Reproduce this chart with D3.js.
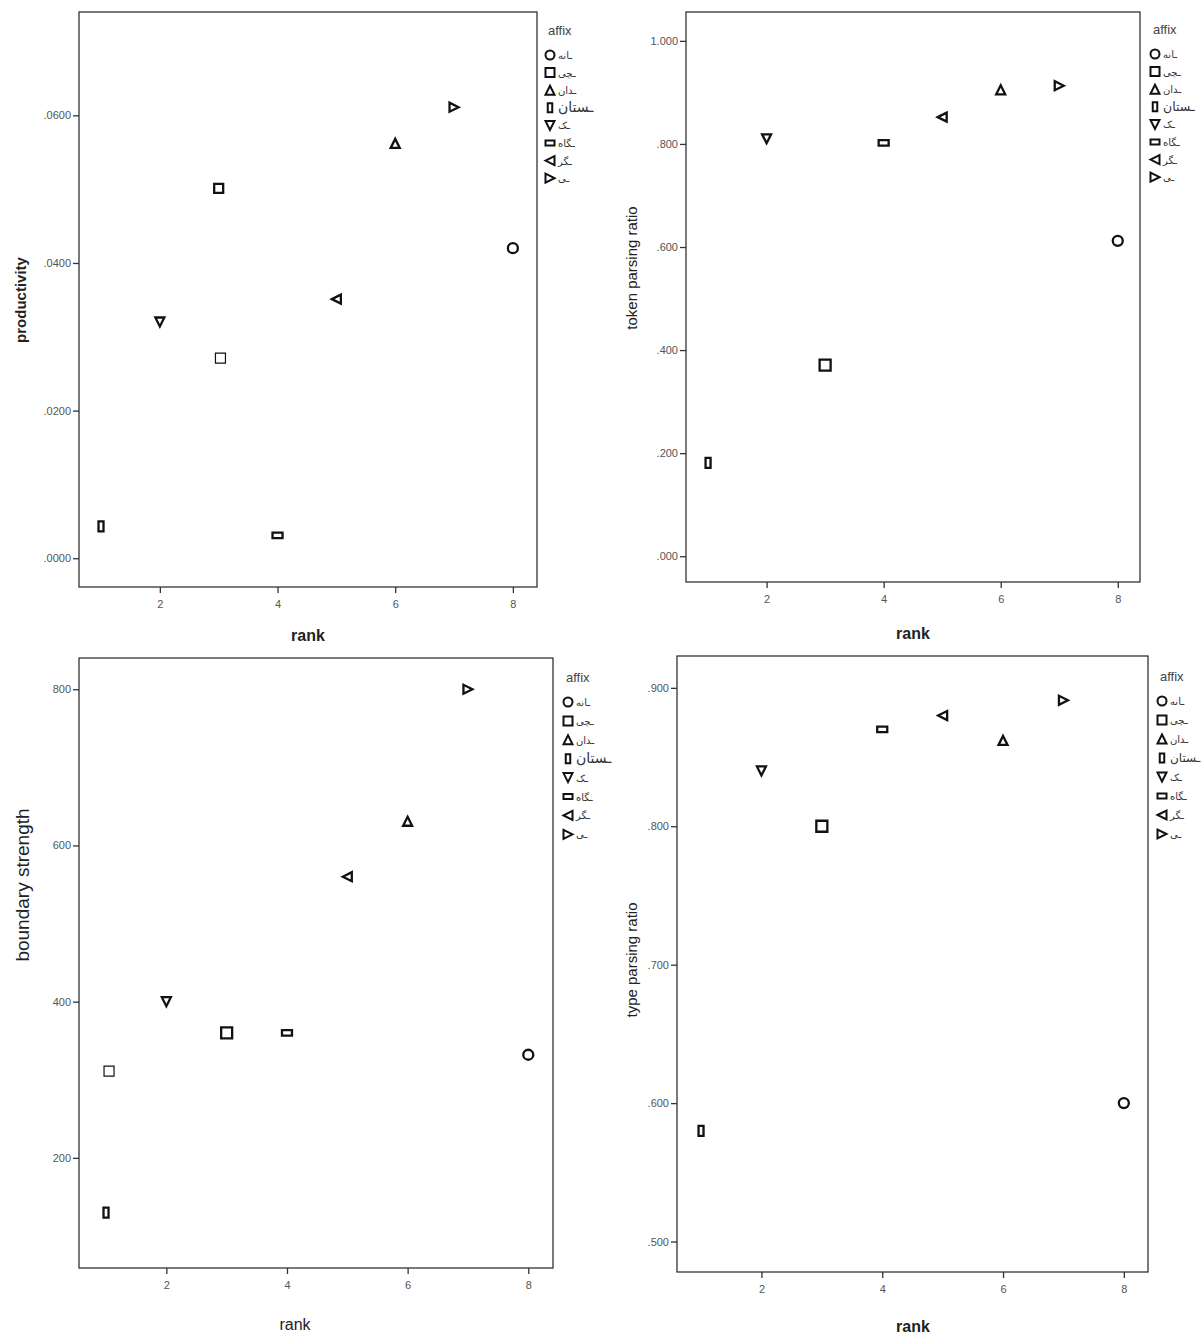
<!DOCTYPE html>
<html>
<head>
<meta charset="utf-8">
<script src="https://cdn.jsdelivr.net/npm/d3@7"></script>
<style>
body { margin: 0; background: #fff; }
svg text { font-family: "Liberation Sans", Arial, sans-serif; }
</style>
</head>
<body>
<div id="chart"></div>
<script>
// data
var affixes = ["ـانه", "ـچی", "ـدان", "ـستان", "ـک", "ـگاه", "ـگر", "ـی"];
var shapes = ["circle", "square", "up", "tall", "down", "wide", "left", "right"];
var ranks = [8, 3, 6, 1, 2, 4, 5, 7];

var productivity = [0.0420, 0.0501, 0.0562, 0.0043, 0.0320, 0.0031, 0.0351, 0.0611];
var tokenParsing = [0.612, 0.371, 0.905, 0.181, 0.810, 0.802, 0.852, 0.913];
var boundaryStrength = [332, 360, 631, 130, 400, 360, 560, 800];
var typeParsing = [0.600, 0.800, 0.862, 0.580, 0.840, 0.870, 0.880, 0.891];

// stray thin squares without legend entry
var productivityExtra = [{rank: 3.03, value: 0.0271}];
var boundaryExtra = [{rank: 1.05, value: 311}];

var xTicks = [2, 4, 6, 8];
var prodTicks = [0, 0.02, 0.04, 0.06];
var tokenTicks = [0, 0.2, 0.4, 0.6, 0.8, 1.0];
var boundaryTicks = [200, 400, 600, 800];
var typeTicks = [0.5, 0.6, 0.7, 0.8, 0.9];

var stripZero = function(f){ return function(d){ return f(d).replace(/^0\./, "."); }; };

var panels = [
	{values: productivity, extra: productivityExtra, ticks: prodTicks, fmt: stripZero(d3.format(".4f")),
	 left: 79, right: 537, top: 12, bottom: 587, xd: [0.626, 8.41], yd: [-0.0039, 0.074],
	 ylab: "productivity", ylabBold: true, ylabSize: 15, ylabX: 26, ylabY: 300,
	 xlab: "rank", xlabBold: true, xlabX: 308, xlabY: 641,
	 legX: 550, legY: 30, legStep: 17.6, sq: 9, bigFont: 14},
	{values: tokenParsing, extra: [], ticks: tokenTicks, fmt: stripZero(d3.format(".3f")),
	 left: 686, right: 1140, top: 12, bottom: 582, xd: [0.623, 8.38], yd: [-0.05, 1.056],
	 ylab: "token parsing ratio", ylabBold: false, ylabSize: 15, ylabX: 637, ylabY: 268,
	 xlab: "rank", xlabBold: true, xlabX: 913, xlabY: 639,
	 legX: 1155, legY: 29, legStep: 17.6, sq: 11, bigFont: 12.5},
	{values: boundaryStrength, extra: boundaryExtra, ticks: boundaryTicks, fmt: d3.format("d"),
	 left: 79, right: 553, top: 658, bottom: 1268, xd: [0.552, 8.41], yd: [59, 840],
	 ylab: "boundary strength", ylabBold: false, ylabSize: 19, ylabX: 29, ylabY: 885,
	 xlab: "rank", xlabBold: false, xlabX: 295, xlabY: 1330,
	 legX: 568, legY: 677, legStep: 18.9, sq: 11, bigFont: 14},
	{values: typeParsing, extra: [], ticks: typeTicks, fmt: stripZero(d3.format(".3f")),
	 left: 677, right: 1148, top: 656, bottom: 1272, xd: [0.602, 8.40], yd: [0.478, 0.923],
	 ylab: "type parsing ratio", ylabBold: false, ylabSize: 15, ylabX: 637, ylabY: 960,
	 xlab: "rank", xlabBold: true, xlabX: 913, xlabY: 1332,
	 legX: 1162, legY: 676, legStep: 19, sq: 11, bigFont: 12}
];

// marker outlines
function shapePath(kind, s){
	var h = s/2;
	switch(kind){
		case "circle": return circlePath(h);
		case "square": return "M" + (-h) + "," + (-h) + "h" + s + "v" + s + "h" + (-s) + "z";
		case "up": return "M0," + (-h) + "L" + h + "," + h + "L" + (-h) + "," + h + "z";
		case "down": return "M0," + h + "L" + h + "," + (-h) + "L" + (-h) + "," + (-h) + "z";
		case "left": return "M" + (-h) + ",0L" + h + "," + (-h) + "L" + h + "," + h + "z";
		case "right": return "M" + h + ",0L" + (-h) + "," + (-h) + "L" + (-h) + "," + h + "z";
		case "tall": return "M" + (-h*0.5) + "," + (-h) + "h" + (h) + "v" + s + "h" + (-h) + "z";
		case "wide": return "M" + (-h) + "," + (-h*0.55) + "h" + s + "v" + (h*1.1) + "h" + (-s) + "z";
	}
}
function circlePath(r){
	var p = d3.path();
	p.arc(0, 0, r, 0, 2*Math.PI);
	p.closePath();
	return p.toString();
}
function markSize(kind, p){
	if(kind == "square") return p.sq;
	if(kind == "up" || kind == "down" || kind == "left" || kind == "right") return 9;
	return 10;
}

var svg = d3.select("#chart").append("svg")
	.attr("width", 1204)
	.attr("height", 1335);

panels.forEach(function(p){
	var x = d3.scaleLinear().domain(p.xd).range([p.left, p.right]);
	var y = d3.scaleLinear().domain(p.yd).range([p.bottom, p.top]);
	var g = svg.append("g");

	//frame
	g.append("rect")
		.attr("x", p.left).attr("y", p.top)
		.attr("width", p.right - p.left).attr("height", p.bottom - p.top)
		.style("fill", "none").style("stroke", "#333").style("stroke-width", 1.3);

	//y axis
	var yAxis = d3.axisLeft(y).tickValues(p.ticks).tickFormat(p.fmt).tickSize(6).tickPadding(2);
	var ya = g.append("g").attr("transform", "translate(" + p.left + ",0)").call(yAxis);
	ya.select(".domain").remove();
	ya.selectAll("line").style("stroke", "#333").style("stroke-width", 1.3);
	ya.selectAll("text").style("font-size", "11px").style("fill", "#555");

	//x axis
	var xAxis = d3.axisBottom(x).tickValues(xTicks).tickFormat(d3.format("d")).tickSize(6).tickPadding(7);
	var xa = g.append("g").attr("transform", "translate(0," + p.bottom + ")").call(xAxis);
	xa.select(".domain").remove();
	xa.selectAll("line").style("stroke", "#333").style("stroke-width", 1.3);
	xa.selectAll("text").style("font-size", "11px").style("fill", "#555");

	//labels
	g.append("text")
		.attr("transform", "translate(" + p.ylabX + "," + p.ylabY + ") rotate(-90)")
		.attr("text-anchor", "middle")
		.style("font-size", p.ylabSize + "px")
		.style("font-weight", p.ylabBold ? "bold" : "normal")
		.style("fill", "#222")
		.text(p.ylab);
	g.append("text")
		.attr("x", p.xlabX).attr("y", p.xlabY)
		.attr("text-anchor", "middle")
		.style("font-size", "16px")
		.style("font-weight", p.xlabBold ? "bold" : "normal")
		.style("fill", "#222")
		.text(p.xlab);

	//points
	var pts = affixes.map(function(a, i){ return {shape: shapes[i], rank: ranks[i], value: p.values[i]}; });
	g.selectAll(".pt").data(pts).enter().append("path")
		.attr("class", "pt")
		.attr("transform", function(d){ return "translate(" + x(d.rank) + "," + y(d.value) + ")"; })
		.attr("d", function(d){ return shapePath(d.shape, markSize(d.shape, p)); })
		.style("fill", "none").style("stroke", "#111").style("stroke-width", 2.3);

	g.selectAll(".extra").data(p.extra).enter().append("path")
		.attr("class", "extra")
		.attr("transform", function(d){ return "translate(" + x(d.rank) + "," + y(d.value) + ")"; })
		.attr("d", shapePath("square", 10))
		.style("fill", "#fff").style("stroke", "#111").style("stroke-width", 1.2);

	//legend
	var leg = g.append("g").attr("transform", "translate(" + p.legX + "," + p.legY + ")");
	leg.append("text")
		.attr("x", -2).attr("y", 5)
		.style("font-size", "13px").style("fill", "#444")
		.text("affix");
	var items = leg.selectAll(".item").data(affixes).enter().append("g")
		.attr("class", "item")
		.attr("transform", function(d, i){ return "translate(0," + (25 + i*p.legStep) + ")"; });
	items.append("path")
		.attr("d", function(d, i){ return shapePath(shapes[i], 9); })
		.style("fill", "none").style("stroke", "#111").style("stroke-width", 2);
	items.append("text")
		.attr("x", 8).attr("y", 4)
		.style("font-family", "'DejaVu Sans', sans-serif")
		.style("font-size", function(d, i){ return i == 3 ? p.bigFont + "px" : "10px"; })
		.style("fill", "#333")
		.text(function(d){ return d; });
});
</script>
</body>
</html>
